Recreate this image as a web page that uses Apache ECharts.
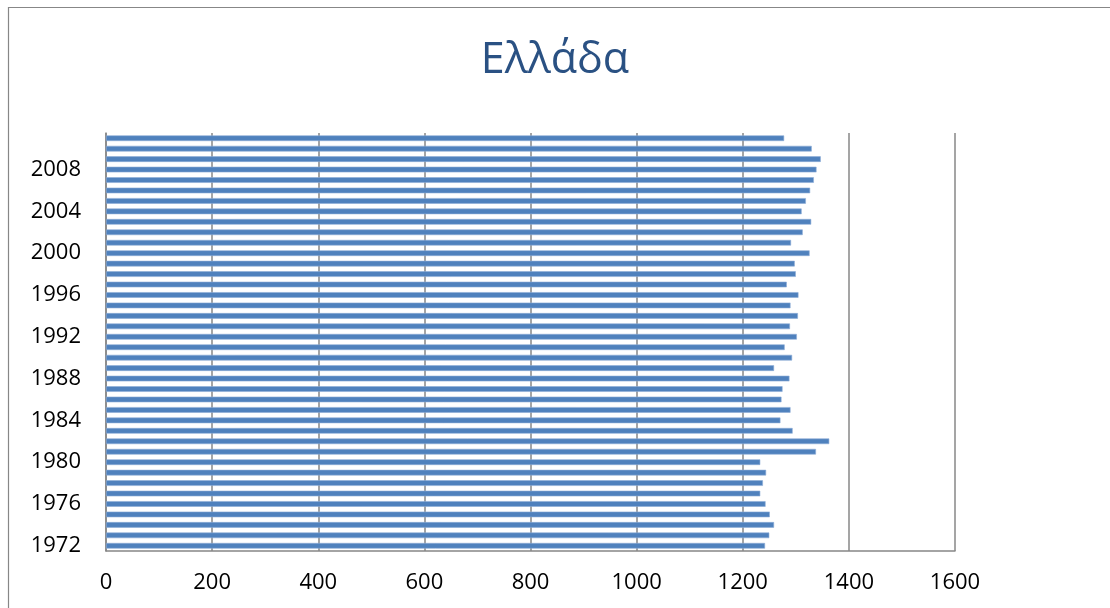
<!DOCTYPE html>
<html>
<head>
<meta charset="utf-8">
<script src="https://cdn.jsdelivr.net/npm/echarts@6/dist/echarts.min.js"></script>
<style>
  html, body { margin: 0; padding: 0; background: #ffffff; }
  #chart { width: 1110px; height: 608px; }
</style>
</head>
<body>
<div id="chart"></div>
<script>
// Years shown on the category axis (bottom to top)
const years = [
  1972, 1973, 1974, 1975, 1976, 1977, 1978, 1979, 1980, 1981,
  1982, 1983, 1984, 1985, 1986, 1987, 1988, 1989, 1990, 1991,
  1992, 1993, 1994, 1995, 1996, 1997, 1998, 1999, 2000, 2001,
  2002, 2003, 2004, 2005, 2006, 2007, 2008, 2009, 2010, 2011
];

// Value for each year
const values = [
  1242, 1250, 1259, 1251, 1243, 1233, 1238, 1244, 1233, 1338,
  1363, 1294, 1271, 1290, 1273, 1275, 1288, 1259, 1293, 1279,
  1302, 1289, 1304, 1290, 1305, 1283, 1300, 1298, 1326, 1291,
  1313, 1329, 1311, 1319, 1327, 1334, 1339, 1347, 1330, 1278
];

// Value axis ticks
const xMin = 0;
const xMax = 1600;
const xStep = 200;

const titleText = 'Ελλάδα';

const gray = '#878787';
const font = '"Open Sans", "Noto Sans", sans-serif';

const chart = echarts.init(document.getElementById('chart'), null, { renderer: 'canvas' });

chart.setOption({
  animation: false,
  backgroundColor: '#ffffff',
  title: {
    text: titleText,
    left: 'center',
    top: 34,
    textStyle: {
      color: '#2A5183',
      fontFamily: font,
      fontSize: 43,
      fontWeight: 'normal'
    }
  },
  graphic: [{
    type: 'rect',
    shape: { x: 8.5, y: 7.5, width: 1300, height: 800 },
    style: { fill: 'none', stroke: gray, lineWidth: 1.2 },
    silent: true
  }],
  grid: {
    left: 106,
    right: 155,
    top: 133,
    bottom: 57,
    containLabel: false
  },
  xAxis: {
    type: 'value',
    min: xMin,
    max: xMax,
    interval: xStep,
    axisLine: { show: true, lineStyle: { color: gray, width: 1.5 } },
    axisTick: { show: false },
    splitLine: { show: true, lineStyle: { color: gray, width: 1.5 } },
    axisLabel: {
      color: '#000000',
      fontFamily: font,
      fontSize: 22,
      margin: 21,
      formatter: function (v) { return String(v); }
    }
  },
  yAxis: {
    type: 'category',
    data: years,
    axisLine: { show: true, lineStyle: { color: gray, width: 1.5 } },
    axisTick: { show: false },
    splitLine: { show: false },
    axisLabel: {
      interval: 3,
      color: '#000000',
      fontFamily: font,
      fontSize: 22,
      margin: 25
    }
  },
  series: [{
    type: 'bar',
    data: values,
    barCategoryGap: '46%',
    itemStyle: {
      color: '#4F81BD',
      borderColor: '#8DADD6',
      borderWidth: 0.6
    }
  }]
});
</script>
</body>
</html>
